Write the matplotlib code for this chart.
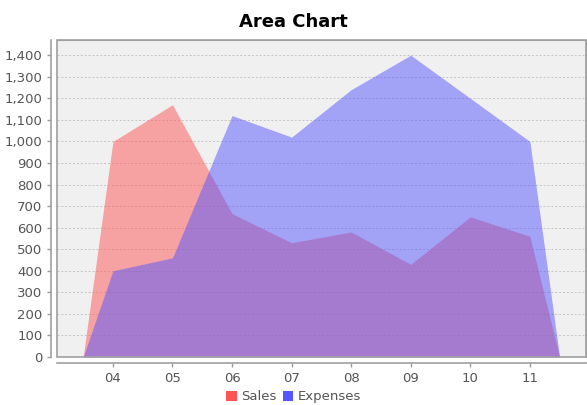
import matplotlib
matplotlib.use("Agg")
import matplotlib.pyplot as plt
from matplotlib.patches import Patch, Rectangle
import numpy as np

# data
categories = ["04", "05", "06", "07", "08", "09", "10", "11"]
sales = [1000, 1170, 665, 530, 580, 430, 650, 560]
expenses = [400, 460, 1120, 1020, 1240, 1400, 1200, 1000]

fig = plt.figure(figsize=(5.87, 4.05), dpi=100)
ax = fig.add_axes([0.097, 0.1185, 0.901, 0.7825])
ax.set_facecolor("#f0f0f0")

pos = np.arange(len(categories))
# area closes to zero half a category outside the first/last point
xs = np.concatenate(([pos[0] - 0.5], pos, [pos[-1] + 0.5]))
ax.fill_between(xs, 0, [0] + sales + [0], color="#ff5555", alpha=0.5, lw=0, zorder=2)
ax.fill_between(xs, 0, [0] + expenses + [0], color="#5555ff", alpha=0.5, lw=0, zorder=3)

ax.set_xlim(pos[0] - 0.94, pos[-1] + 0.94)
ax.set_ylim(0, 1470)
ax.set_xticks(pos)
ax.set_xticklabels(categories)
ax.set_yticks(np.arange(0, 1401, 100))
ax.set_yticklabels([f"{v:,}" for v in range(0, 1401, 100)])
ax.yaxis.grid(True, color="#c4c4c4", linestyle=(0, (2, 2)), linewidth=0.7)
ax.set_axisbelow(True)

ax.tick_params(colors="#999999", labelcolor="#555555", labelsize=9.5, length=3, width=1)
for s in ["left", "bottom"]:
    ax.spines[s].set_position(("outward", 4))
    ax.spines[s].set_color("#a0a0a0")
    ax.spines[s].set_linewidth(1.2)
for s in ["top", "right"]:
    ax.spines[s].set_color("#a0a0a0")
ax.add_patch(Rectangle((0, 0), 1, 1, transform=ax.transAxes, fill=False,
                       edgecolor="#a0a0a0", lw=1.2, zorder=5, clip_on=False))

fig.suptitle("Area Chart", fontsize=13, fontweight="bold", y=0.968)

handles = [Patch(facecolor="#ff5555", label="Sales"),
           Patch(facecolor="#5555ff", label="Expenses")]
fig.legend(handles=handles, loc="lower center", bbox_to_anchor=(0.5, -0.025), ncol=2,
           frameon=False, fontsize=9.5, handlelength=0.8, handleheight=0.8,
           handletextpad=0.3, columnspacing=0.5, labelcolor="#555555")

fig.savefig("out.png", dpi=100)
